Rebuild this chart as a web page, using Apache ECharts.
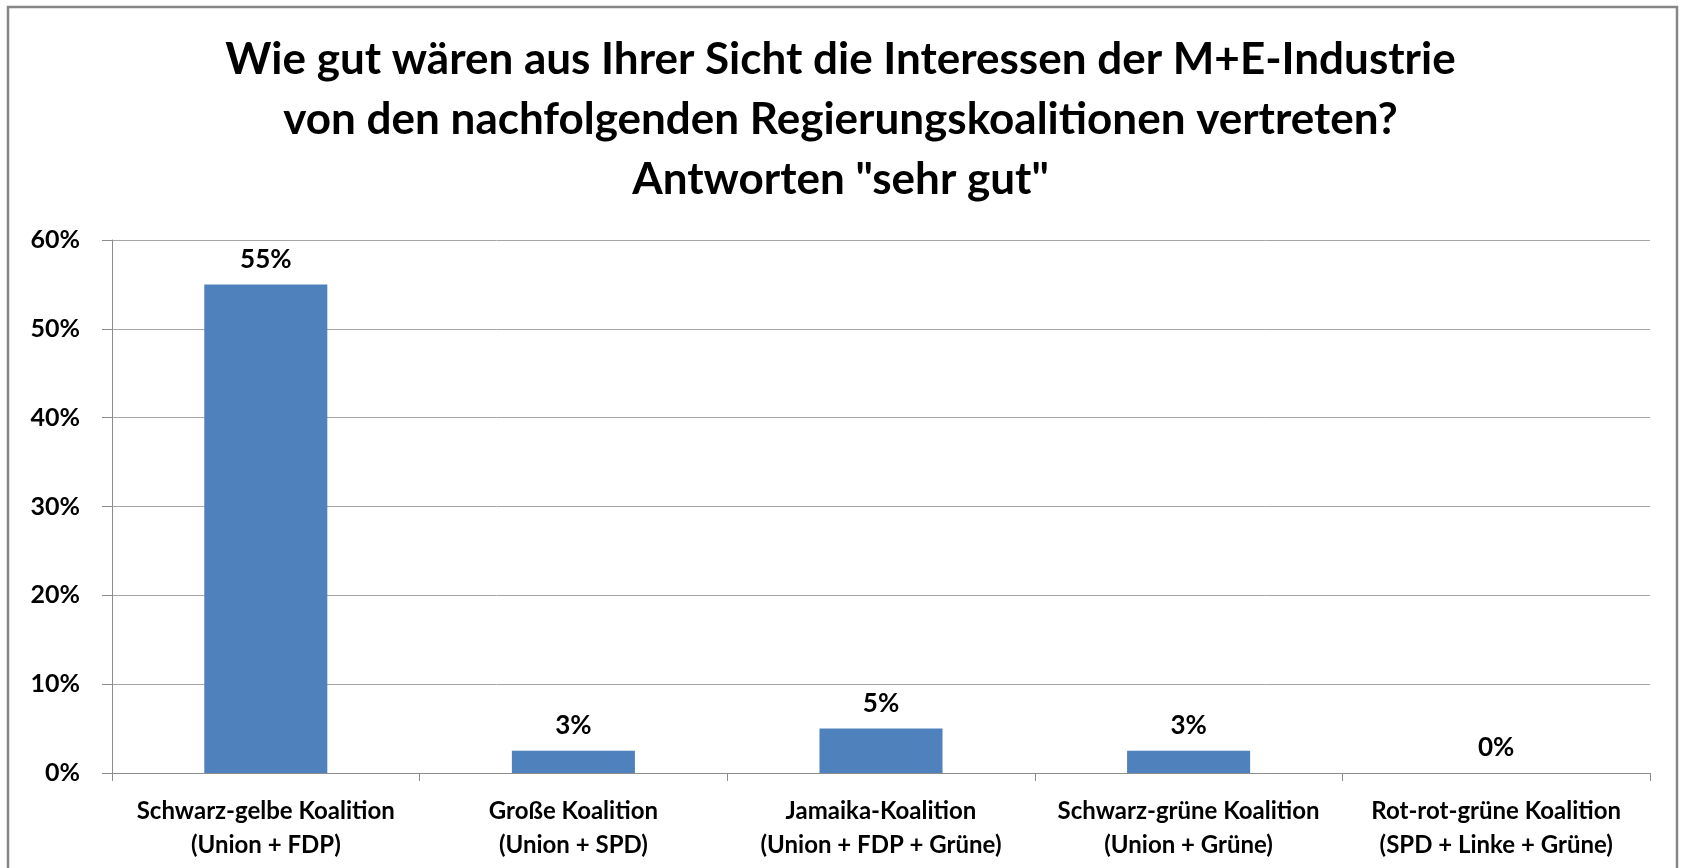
<!DOCTYPE html>
<html>
<head>
<meta charset="utf-8">
<script src="https://cdn.jsdelivr.net/npm/echarts@6/dist/echarts.min.js"></script>
<style>
  html, body { margin: 0; padding: 0; background: #fff; }
  #chart { width: 1681px; height: 868px; }
</style>
</head>
<body>
<div id="chart"></div>
<script>
// Koalitionen und Anteil "sehr gut" (in %)
const categories = [
  'Schwarz-gelbe Koalition\n(Union + FDP)',
  'Große Koalition\n(Union + SPD)',
  'Jamaika-Koalition\n(Union + FDP + Grüne)',
  'Schwarz-grüne Koalition\n(Union + Grüne)',
  'Rot-rot-grüne Koalition\n(SPD + Linke + Grüne)',
];
const sehrGut = [55, 2.5, 5, 2.5, 0];
const titleLines = [
  'Wie gut wären aus Ihrer Sicht die Interessen der M+E-Industrie',
  'von den nachfolgenden Regierungskoalitionen vertreten?',
  'Antworten "sehr gut"',
];

const FONT = 'Lato, "Open Sans", sans-serif';
const GRID = '#a6a6a6';

const chart = echarts.init(document.getElementById('chart'));
chart.setOption({
  animation: false,
  backgroundColor: '#fff',
  textStyle: { fontFamily: FONT },
  graphic: [{
    type: 'rect', silent: true,
    shape: { x: 8, y: 7, width: 1669, height: 900 },
    style: { fill: 'none', stroke: '#868686', lineWidth: 2.5 },
  }],
  title: {
    text: titleLines.join('\n'),
    left: 'center', top: 25,
    textStyle: { fontFamily: FONT, fontWeight: 'bold', fontSize: 44, lineHeight: 60, color: '#000' },
  },
  grid: { left: 112, right: 31, top: 240, bottom: 95 },
  xAxis: {
    type: 'category',
    data: categories,
    axisLine: { lineStyle: { color: '#8c8c8c', width: 1 } },
    axisTick: { show: true, length: 8, lineStyle: { color: '#8c8c8c' } },
    axisLabel: { color: '#000', fontFamily: FONT, fontWeight: 'bold', fontSize: 24, lineHeight: 34, margin: 21, interval: 0 },
  },
  yAxis: {
    type: 'value', min: 0, max: 60, interval: 10,
    axisLine: { show: true, lineStyle: { color: '#8c8c8c', width: 1 } },
    axisTick: { show: true, length: 10, lineStyle: { color: '#8c8c8c' } },
    axisLabel: { color: '#000', fontFamily: FONT, fontWeight: 'bold', fontSize: 25, margin: 32, formatter: '{value}%' },
    splitLine: { lineStyle: { color: GRID, width: 1 } },
  },
  series: [{
    type: 'bar',
    data: sehrGut,
    barWidth: '40%',
    itemStyle: { color: '#4f81bd' },
    label: {
      show: true, position: 'top', distance: 12,
      color: '#000', fontFamily: FONT, fontWeight: 'bold', fontSize: 26,
      formatter: (p) => Math.round(p.value) + '%',
    },
  }],
});
</script>
</body>
</html>
